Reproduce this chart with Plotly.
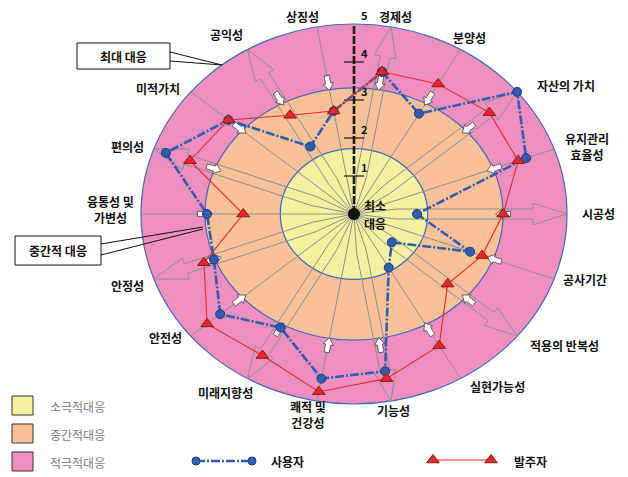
import numpy as np
import plotly.graph_objects as go

# ---------------- data ----------------
categories = ["경제성", "분양성", "자산의 가치", "유지관리<br>효율성", "시공성", "공사기간",
              "적용의 반복성", "실현가능성", "기능성", "쾌적 및<br>건강성", "미래지향성", "안전성",
              "안정성", "융통성 및<br>가변성", "편의성", "미적가치", "공익성", "상징성"]
angles_deg = [10, 30, 50, 70, 90, 110, 130, 150, 170, 190, 210, 230, 250, 270, 290, 310, 330, 350]
user_values = [3.8, 3.05, 5.0, 4.3, 1.48, 2.9, 1.16, 1.63, 4.2, 4.4, 3.45, 4.1, 3.5, 3.45, 4.7, 3.85, 2.05, 2.75]
owner_values = [3.8, 3.95, 4.15, 4.1, 3.5, 3.2, 2.87, 4.0, 4.4, 4.75, 4.3, 4.5, 3.75, 2.6, 4.1, 3.85, 3.0, 2.75]
has_big_arrow = [True, False] * 9
scale_ticks = [1, 2, 3, 4, 5]
band_names = ["소극적대응", "중간적대응", "적극적대응"]
series_names = ["사용자", "발주자"]
center_label = ["최소", "대응"]

# ---------------- geometry / style ----------------
W, H = 628, 477
CX, CY, SX, SY = 354, 214, 42.6, 38.0
FONT = "Noto Sans CJK KR"
R_MAX = 5.0
BLUE_DASH = "9px,2px,2px,2px"

def px2paper(x, y):
    return x / W, 1 - y / H

def px2data(x, y):
    return (x - CX) / SX, (CY - y) / SY

def polar(r, a):
    t = np.radians(a)
    return r * np.sin(t), r * np.cos(t)

def along_pt(a, r, s, off):
    """point at radius r along spoke a, shifted s pixels along it and off pixels across (screen space)."""
    t = np.radians(a)
    d = np.array([np.sin(t) * SX, np.cos(t) * SY])
    d = d / np.linalg.norm(d)
    n = np.array([-d[1], d[0]])
    p = np.array([r * np.sin(t) * SX, r * np.cos(t) * SY]) + d * s + n * off
    return p[0] / SX, p[1] / SY

fig = go.Figure()

# bands (ellipses via data scales)
bands = [(5.0, 5.0, "#EE8FC0"), (3.5, 3.32, "#F9C198"), (1.73, 1.72, "#F4F1A0")]
shapes = []
for rx, ry, col in bands:
    shapes.append(dict(type="circle", xref="x", yref="y", x0=-rx, x1=rx, y0=-ry, y1=ry,
                       fillcolor=col, line=dict(color="#3F68BE", width=1.2), layer="below"))

# spokes: single lines and hollow arrows
sx, sy = [], []
ax_, ay_ = [], []
for a, big in zip(angles_deg, has_big_arrow):
    if not big:
        x1, y1 = polar(R_MAX, a)
        sx += [0, x1, None]
        sy += [0, y1, None]
    else:
        pts = [along_pt(a, 0, 0, 0), along_pt(a, 1.0, 0, 5), along_pt(a, 4.2, 0, 5), along_pt(a, 4.2, 0, 11),
               along_pt(a, 5.0, 0, 0), along_pt(a, 4.2, 0, -11), along_pt(a, 4.2, 0, -5), along_pt(a, 1.0, 0, -5),
               along_pt(a, 0, 0, 0)]
        ax_ += [p[0] for p in pts] + [None]
        ay_ += [p[1] for p in pts] + [None]
fig.add_trace(go.Scatter(x=sx, y=sy, mode="lines", line=dict(color="#8E8E8E", width=1),
                         hoverinfo="skip", showlegend=False))
fig.add_trace(go.Scatter(x=ax_, y=ay_, mode="lines", line=dict(color="#8E8E8E", width=1),
                         hoverinfo="skip", showlegend=False))

# small white inward arrows
wx, wy = [], []
R_SMALL = 3.5
for a in angles_deg:
    pts = [along_pt(a, R_SMALL, 7.5, 2.6), along_pt(a, R_SMALL, -0.5, 2.6), along_pt(a, R_SMALL, -0.5, 5.2),
           along_pt(a, R_SMALL, -7.5, 0), along_pt(a, R_SMALL, -0.5, -5.2), along_pt(a, R_SMALL, -0.5, -2.6),
           along_pt(a, R_SMALL, 7.5, -2.6), along_pt(a, R_SMALL, 7.5, 2.6)]
    wx += [p[0] for p in pts] + [None]
    wy += [p[1] for p in pts] + [None]
fig.add_trace(go.Scatter(x=wx, y=wy, mode="lines", fill="toself", fillcolor="white",
                         line=dict(color="#444444", width=0.8), hoverinfo="skip", showlegend=False))

# vertical scale axis
fig.add_trace(go.Scatter(x=[0, 0], y=[0, R_MAX], mode="lines",
                         line=dict(color="#1A1A1A", width=2.6, dash="8px,2px"),
                         hoverinfo="skip", showlegend=False))
tx, ty = [], []
for v in scale_ticks[:-1]:
    tx += [-10 / SX, 10 / SX, None]
    ty += [v, v, None]
fig.add_trace(go.Scatter(x=tx, y=ty, mode="lines", line=dict(color="#1A1A1A", width=1.2),
                         hoverinfo="skip", showlegend=False))
fig.add_trace(go.Scatter(x=[7 / SX] * len(scale_ticks), y=[v + 7 / SY for v in scale_ticks],
                         mode="text", text=[f"<b>{v}</b>" for v in scale_ticks],
                         textposition="middle right",
                         textfont=dict(family=FONT, size=11, color="#111111"),
                         hoverinfo="skip", showlegend=False))

# series
def closed_xy(vals):
    xs, ys = [], []
    for v, a in zip(vals + vals[:1], angles_deg + angles_deg[:1]):
        x, y = polar(v, a)
        xs.append(x)
        ys.append(y)
    return xs, ys

ux, uy = closed_xy(user_values)
fig.add_trace(go.Scatter(x=ux, y=uy, mode="lines+markers", name=series_names[0],
                         line=dict(color="#2F5DB1", width=2.6, dash=BLUE_DASH),
                         marker=dict(symbol="circle", size=9, color="#2F5DB1",
                                     line=dict(color="#1B3A78", width=1)),
                         showlegend=False))
ox, oy = closed_xy(owner_values)
fig.add_trace(go.Scatter(x=ox, y=oy, mode="lines+markers", name=series_names[1],
                         line=dict(color="#F0282A", width=1.1),
                         marker=dict(symbol="triangle-up", size=11, color="#E8262A",
                                     line=dict(color="#8B1A1A", width=1)),
                         showlegend=False))

# center dot
fig.add_trace(go.Scatter(x=[0], y=[0], mode="markers", marker=dict(size=12, color="#111111"),
                         hoverinfo="skip", showlegend=False))

# legend line samples
bx0, by0 = px2data(196, 461)
bx1, _ = px2data(252, 461)
fig.add_trace(go.Scatter(x=[bx0, bx1], y=[by0, by0], mode="lines+markers",
                         line=dict(color="#2F5DB1", width=2.6, dash=BLUE_DASH),
                         marker=dict(size=8, color="#2F5DB1", line=dict(color="#1B3A78", width=1)),
                         hoverinfo="skip", showlegend=False))
rx0, ry0 = px2data(433, 460)
rx1, _ = px2data(491, 460)
fig.add_trace(go.Scatter(x=[rx0, rx1], y=[ry0, ry0], mode="lines+markers",
                         line=dict(color="#F0282A", width=1.1),
                         marker=dict(symbol="triangle-up", size=11, color="#E8262A",
                                     line=dict(color="#8B1A1A", width=1)),
                         hoverinfo="skip", showlegend=False))

annotations = []
def ann(text, x, y, size=12, color="#111111", bold=True, xanchor="center", pad=1):
    px, py = px2paper(x, y)
    annotations.append(dict(text=f"<b>{text}</b>" if bold else text, x=px, y=py, xref="paper", yref="paper",
                            showarrow=False, xanchor=xanchor, yanchor="middle", borderpad=pad,
                            font=dict(family=FONT, size=size, color=color)))

label_px = [(395, 17), (470, 37), (566, 85), (587, 146), (598, 213), (585, 279),
            (564, 345), (497, 386), (393, 410), (308, 414), (226, 392), (165, 337),
            (127, 285), (111, 209), (127, 146), (158, 88), (227, 34), (302, 16)]
for c, (x, y) in zip(categories, label_px):
    ann(c, x, y, size=12)

ann(center_label[0], 363, 205, size=12, xanchor="left", pad=0)
ann(center_label[1], 363, 223, size=12, xanchor="left", pad=0)

# callout boxes
def rect_px(x0, y0, x1, y1, fill, lw=1, lc="#111111"):
    p0 = px2paper(x0, y1)
    p1 = px2paper(x1, y0)
    shapes.append(dict(type="rect", xref="paper", yref="paper", x0=p0[0], y0=p0[1], x1=p1[0], y1=p1[1],
                       fillcolor=fill, line=dict(color=lc, width=lw), layer="above"))

def line_px(x0, y0, x1, y1, lw=1, lc="#111111"):
    p0 = px2paper(x0, y0)
    p1 = px2paper(x1, y1)
    shapes.append(dict(type="line", xref="paper", yref="paper", x0=p0[0], y0=p0[1], x1=p1[0], y1=p1[1],
                       line=dict(color=lc, width=lw), layer="above"))

rect_px(77, 43, 170, 69, "white")
line_px(170, 52, 222, 65)
line_px(170, 61, 222, 65)
ann("최대 대응", 123, 56, size=12)

rect_px(15, 236, 101, 265, "white")
line_px(101, 244, 203, 227)
line_px(101, 255, 203, 229)
ann("중간적 대응", 58, 250, size=12)

# band legend
band_cols = ["#F4F1A0", "#F9C198", "#EE8FC0"]
for i, (name, col) in enumerate(zip(band_names, band_cols)):
    y0 = 396 + i * 28
    rect_px(12, y0, 33, y0 + 19, col, lw=1, lc="#333333")
    ann(name, 48, y0 + 10, size=12, color="#808080", bold=False, xanchor="left")

ann(series_names[0], 269, 461, size=12, xanchor="left")
ann(series_names[1], 512, 461, size=12, xanchor="left")

fig.update_layout(
    width=W, height=H, margin=dict(l=0, r=0, t=0, b=0),
    paper_bgcolor="white", plot_bgcolor="white",
    xaxis=dict(range=[-CX / SX, (W - CX) / SX], visible=False, fixedrange=True),
    yaxis=dict(range=[(CY - H) / SY, CY / SY], visible=False, fixedrange=True),
    shapes=shapes, annotations=annotations, showlegend=False,
    font=dict(family=FONT),
)

fig.write_html("out.html")
